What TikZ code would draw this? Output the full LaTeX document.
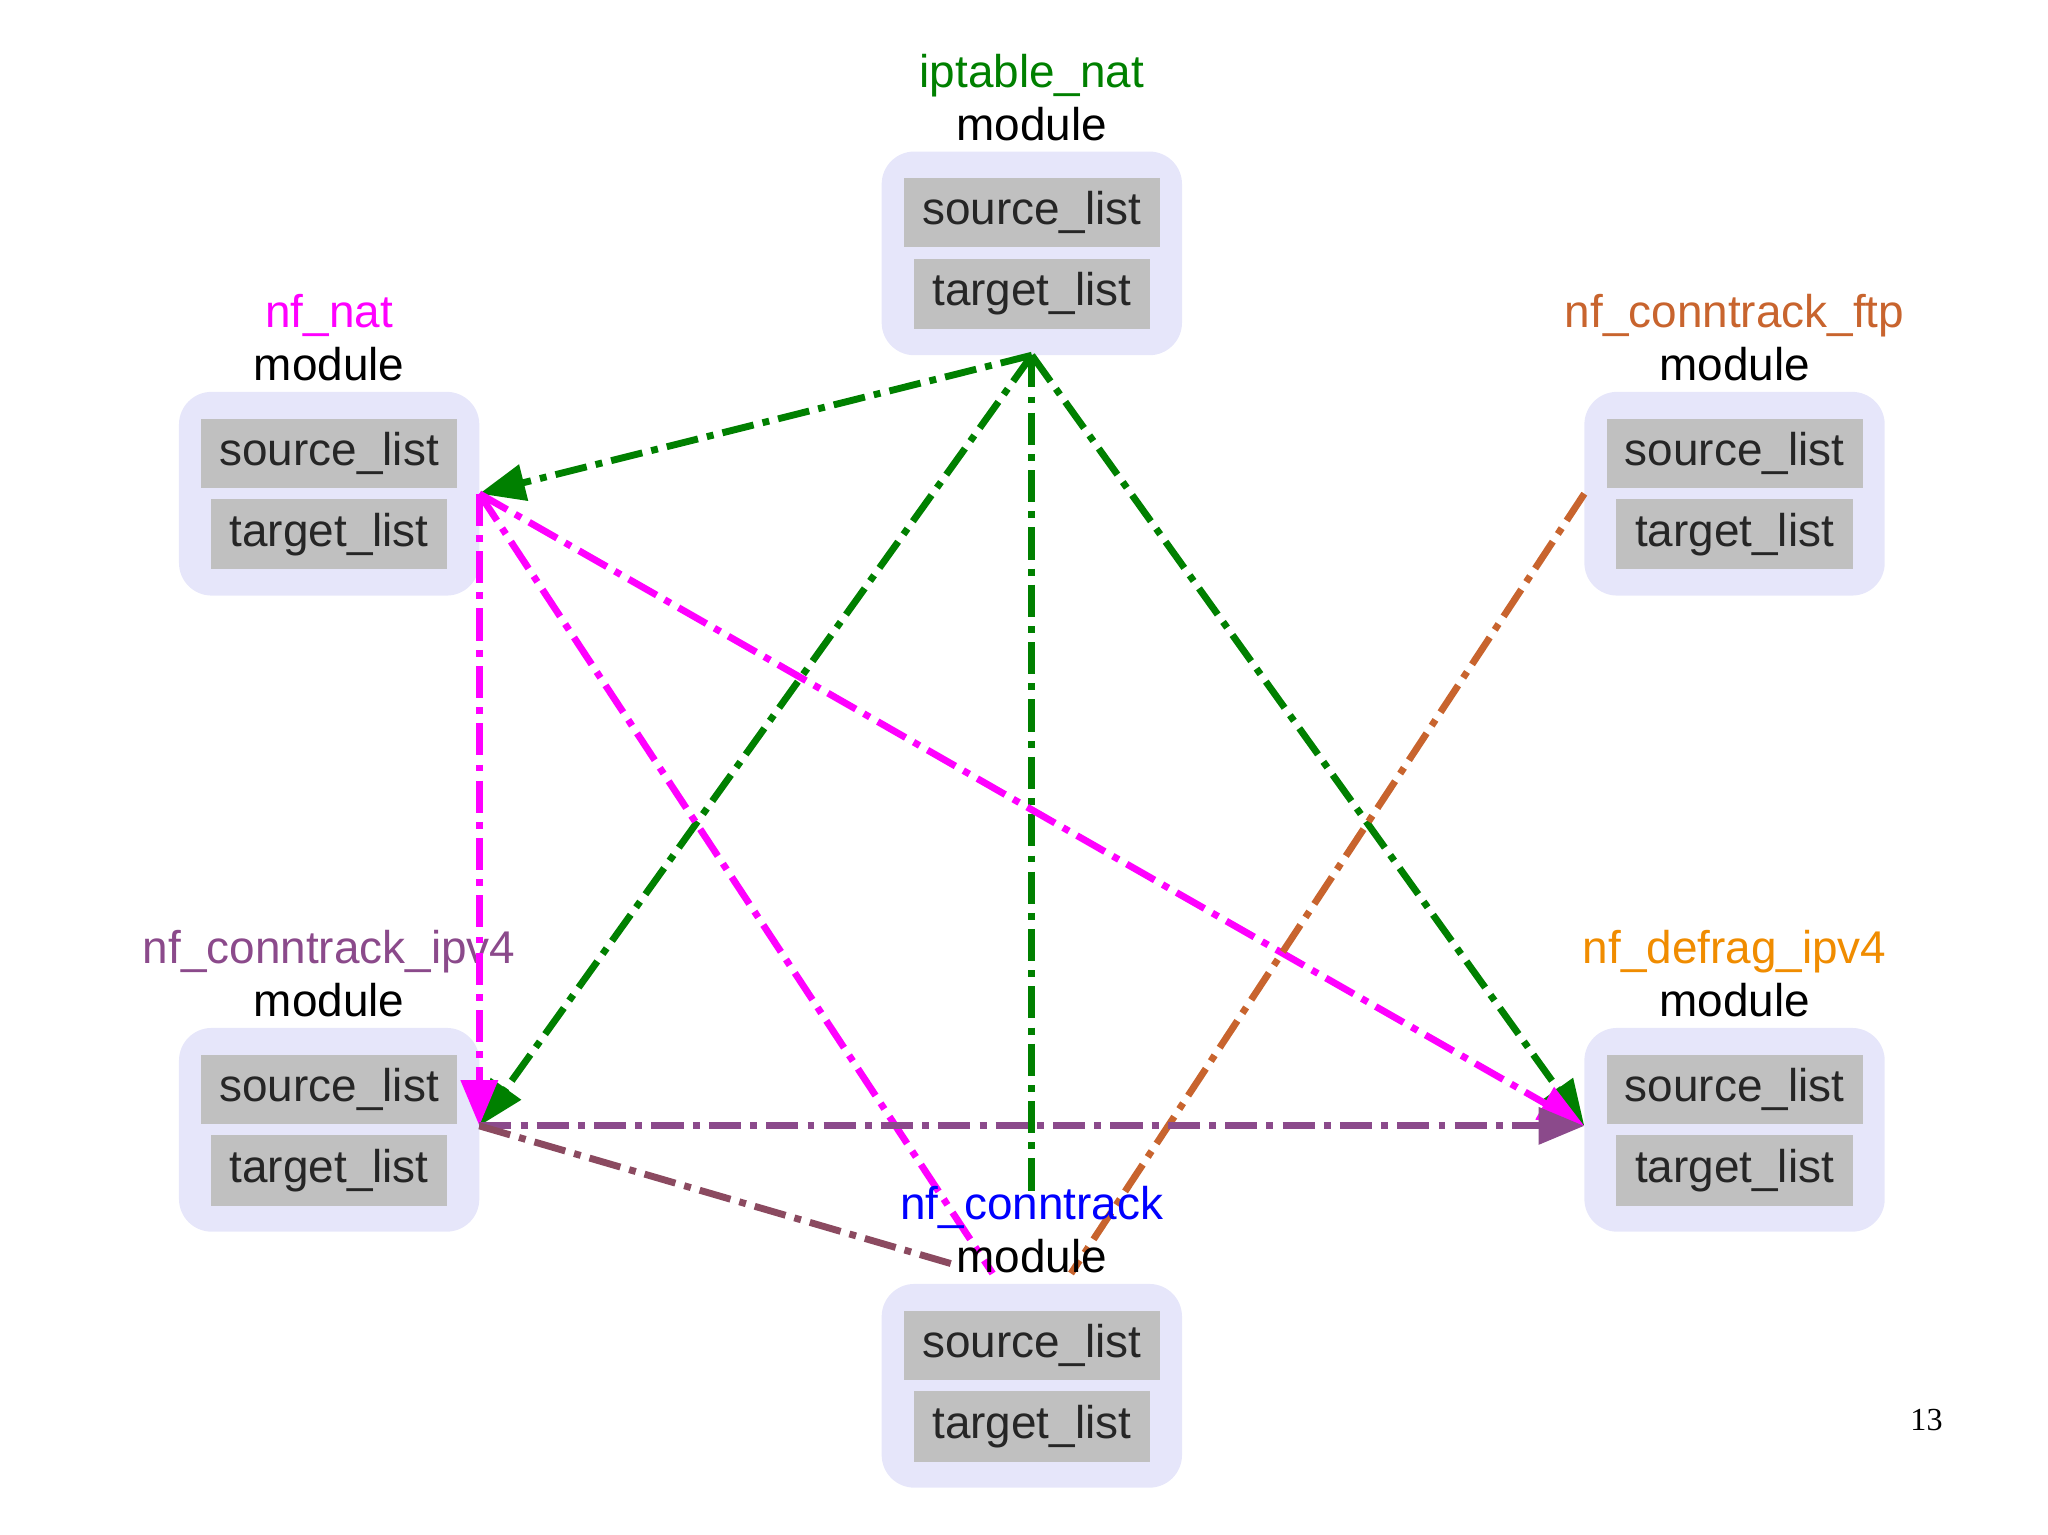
\documentclass[tikz,border=0pt]{standalone}
\usepackage{fontspec}
\setmainfont{Liberation Sans}
\newfontfamily\serifnum{Liberation Serif}
\usetikzlibrary{arrows.meta}
\definecolor{gr}{HTML}{008000}
\definecolor{mag}{HTML}{FF00FF}
\definecolor{sien}{HTML}{C8642E}
\definecolor{purp}{HTML}{8B4A8B}
\definecolor{orng}{HTML}{F08C00}
\definecolor{brn}{HTML}{8B4A60}
\definecolor{lav}{HTML}{E6E6FA}
\definecolor{gbox}{HTML}{C0C0C0}
\tikzset{
 outer/.style={fill=lav,draw=none,rounded corners=0.5cm,minimum width=4.6cm,minimum height=3.12cm},
 srcbox/.style={fill=gbox,minimum width=3.92cm,minimum height=1.06cm,font=\fontsize{20}{23}\selectfont,text=black!85},
 tgtbox/.style={fill=gbox,minimum width=3.62cm,minimum height=1.08cm,font=\fontsize{20}{23}\selectfont,text=black!85},
 lbl/.style={font=\fontsize{20}{23}\selectfont,align=center},
 edge/.style={line width=3pt,dash pattern=on 14pt off 4pt on 3pt off 4pt},
 tip/.style={-{Triangle[length=0.7cm,width=0.55cm]}}
}
\newcommand{\modbox}[4]{% name, x, y (box center), title
 \node[outer] (#1) at (#2,#3) {};
 \node[srcbox] (#1s) at (#2,#3-31) {source\_list};
 \node[tgtbox] (#1t) at (#2,#3+31) {target\_list};
 \node[lbl,anchor=south] (#1l) at (#2,#3-80) {#4\\[0pt]module};
}
\begin{document}
\begin{tikzpicture}[x=0.02cm,y=-0.02cm]
\useasboundingbox (0,0) rectangle (1568,1175);
\modbox{ipt}{790}{194}{\textcolor{gr}{iptable\_nat}}
\modbox{nat}{252}{378}{\textcolor{mag}{nf\_nat}}
\modbox{ftp}{1328}{378}{\textcolor{sien}{nf\_conntrack\_ftp}}
\modbox{ipv}{252}{865}{\textcolor{purp}{nf\_conntrack\_ipv4}}
\modbox{dfr}{1328}{865}{\textcolor{orng}{nf\_defrag\_ipv4}}
\node[font=\fontsize{14}{16}\selectfont\serifnum] (pg) at (1475,1087) {13};
\coordinate (iptB) at (790,272);
\coordinate (natR) at (367,378);
\coordinate (ftpL) at (1213,378);
\coordinate (ipvR) at (367,862);
\coordinate (dfrL) at (1213,862);
\coordinate (nfcA) at (790,915);
\coordinate (nfcB) at (760,975);
\coordinate (nfcC) at (820,975);
\coordinate (nfcD) at (730,968);
\draw[edge,gr,tip] (iptB) -- (natR);
\draw[edge,gr,tip] (iptB) -- (ipvR);
\draw[edge,gr] (iptB) -- (nfcA);
\draw[edge,gr,tip] (iptB) -- (dfrL);
\draw[edge,mag,tip] (natR) -- (ipvR);
\draw[edge,mag] (natR) -- (nfcB);
\draw[edge,mag,tip] (natR) -- (dfrL);
\draw[edge,sien] (ftpL) -- (nfcC);
\draw[edge,purp,tip] (ipvR) -- (dfrL);
\draw[edge,brn] (ipvR) -- (nfcD);
\modbox{nfc}{790}{1061}{\textcolor{blue}{nf\_conntrack}}
\end{tikzpicture}
\end{document}
